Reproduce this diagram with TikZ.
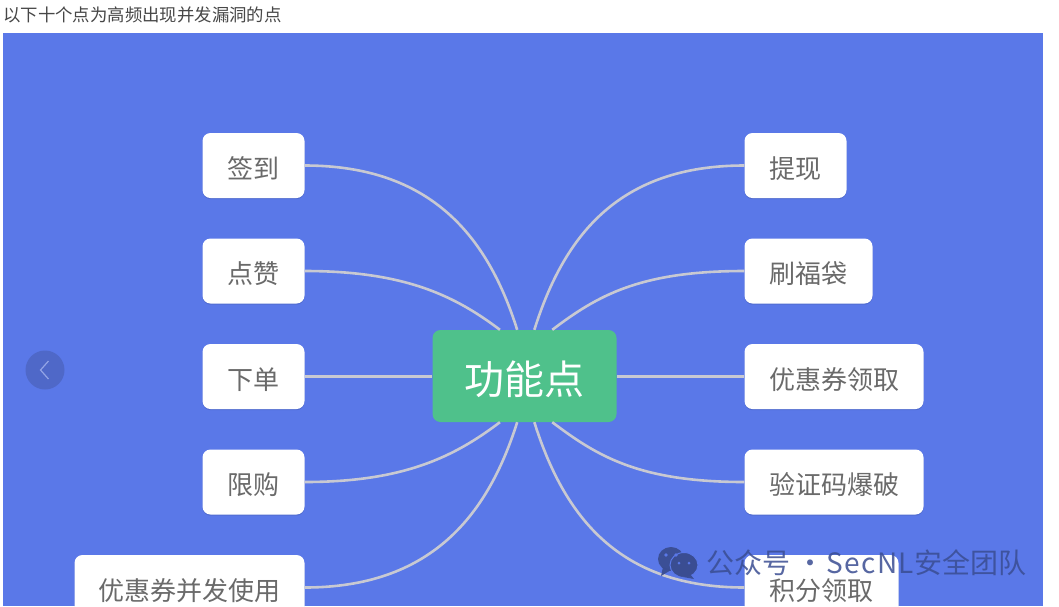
\documentclass[tikz,border=0pt]{standalone}
\usepackage{fontspec}
\setmainfont{Noto Sans CJK SC}
\usepackage{tikz}
\usetikzlibrary{shadows}
\definecolor{panelblue}{HTML}{5A78E8}
\definecolor{hubgreen}{HTML}{4FC18B}
\definecolor{linkgray}{HTML}{C8C9D2}
\definecolor{itemtext}{HTML}{6A6A6A}
\definecolor{markblue}{HTML}{3A4D92}
\definecolor{backblue}{HTML}{4F68C8}
\definecolor{backline}{HTML}{93A4E6}
\tikzset{
    item/.style={shape=rectangle, rounded corners=8pt, fill=white, text=itemtext, font=\fontsize{26}{30}\selectfont, minimum height=65pt, text height=25pt, text depth=0pt, inner sep=0pt, anchor=center, drop shadow={shadow xshift=0pt, shadow yshift=-1.2pt, opacity=0.1, fill=black}},
    link/.style={draw=linkgray, line width=2.6pt},
    markshape/.style={fill=markblue, fill opacity=0.95}}

\begin{document}
\begin{tikzpicture}[x=1pt, y=-1pt]

            \useasboundingbox (0,0) rectangle (1059,606);
            \clip (0,0) rectangle (1059,606);
            \fill[white] (0,0) rectangle (1059,606);
            \fill[panelblue] (3,33) rectangle (1043,606);

            \node[anchor=west, inner sep=0pt, text=black!72, font=\fontsize{17.4}{20}\selectfont] (title) at (3,15) {以下十个点为高频出现并发漏洞的点};

            \node[shape=rectangle, rounded corners=8pt, fill=hubgreen, text=white, font=\fontsize{40}{46}\selectfont, minimum width=184pt, minimum height=92pt, text height=37pt, text depth=0pt, inner sep=0pt] (hub) at (524.5,376) {功能点};

            \node[item, minimum width=102pt] (sign) at (253.5,165.5) {签到};
            \node[item, minimum width=102pt] (like) at (253.5,271) {点赞};
            \node[item, minimum width=102pt] (order) at (253.5,376.5) {下单};
            \node[item, minimum width=102pt] (limit) at (253.5,482) {限购};
            \node[item, minimum width=230pt] (reuse) at (189.5,587.5) {优惠券并发使用};

            \node[item, minimum width=102pt] (cash) at (795.5,165.5) {提现};
            \node[item, minimum width=128pt] (bag) at (808.5,271) {刷福袋};
            \node[item, minimum width=179pt] (coupon) at (834,376.5) {优惠券领取};
            \node[item, minimum width=179pt] (captcha) at (834,482) {验证码爆破};
            \node[item, minimum width=154pt] (points) at (821.5,587.5) {积分领取};

            \draw[link] (sign.east) .. controls +(125,0) and +(-30,-95) .. (hub.99);
            \draw[link] (like.east) .. controls +(100,0) and +(-45,-34) .. (hub.118);
            \draw[link] (order.east) -- (order.east -| hub.west);
            \draw[link] (limit.east) .. controls +(100,0) and +(-45,34) .. (hub.242);
            \draw[link] (reuse.east) .. controls +(125,0) and +(-30,95) .. (hub.261);

            \draw[link] (cash.west) .. controls +(-125,0) and +(30,-95) .. (hub.78);
            \draw[link] (bag.west) .. controls +(-105,0) and +(45,-34) .. (hub.59);
            \draw[link] (coupon.west) -- (coupon.west -| hub.east);
            \draw[link] (captcha.west) .. controls +(-105,0) and +(45,34) .. (hub.-59);
            \draw[link] (points.west) .. controls +(-125,0) and +(30,95) .. (hub.-78);

            \node[shape=circle, fill=backblue, minimum size=39pt, inner sep=0pt] (back) at (45,370) {};
            \draw[backline, line width=1.2pt] (48.5,361) -- (40.5,370) -- (48.5,379);

            \fill[markshape] (671,559) ellipse (13pt and 12pt);
            \fill[markshape] (663,567) -- (661,576) -- (671,570) -- cycle;
            \draw[panelblue, line width=1pt, fill=markblue] (684,565) ellipse (14pt and 12.5pt);
            \fill[markshape] (690,574) -- (694,579) -- (683,577) -- cycle;
            \fill[panelblue] (666,555) circle (1.8pt) (676,555) circle (1.8pt) (679,563) circle (1.5pt) (689,563) circle (1.5pt);

            \node[anchor=west, inner sep=0pt, text=markblue, text opacity=0.85, font=\fontsize{28}{32}\selectfont] (mark) at (706,563) {公众号 ·\hspace{2pt}{\addfontfeature{LetterSpace=5}SecNL}安全团队};

\end{tikzpicture}
\end{document}
